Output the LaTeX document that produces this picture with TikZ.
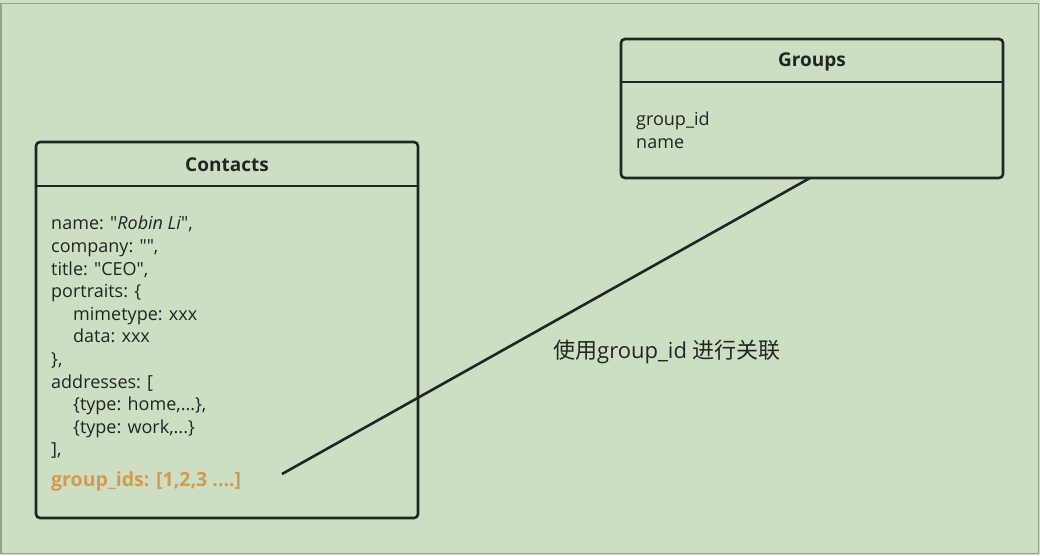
\documentclass[tikz,border=0pt]{standalone}
\usepackage{fontspec}
\setmainfont{Open Sans}
\newfontfamily\cjk{Noto Sans CJK SC}
\definecolor{bgc}{HTML}{CEDEC2}
\definecolor{framec}{HTML}{8EA48E}
\definecolor{inkc}{HTML}{1E2723}
\definecolor{orangec}{HTML}{D29A52}
\newcommand{\qq}{\textquotedbl}
\tikzset{
  entity/.style={draw=inkc, line width=2.6pt, rounded corners=4pt},
  sepline/.style={draw=inkc, line width=2.4pt},
  title/.style={font=\fontsize{19}{22}\selectfont\bfseries, text=inkc, inner sep=0pt},
  body/.style={font=\fontsize{18}{22.6}\selectfont, text=inkc, align=left, inner sep=0pt, anchor=north west},
  link/.style={draw=inkc, line width=2.6pt},
}
\begin{document}
\begin{tikzpicture}[x=1pt,y=-1pt]
\useasboundingbox (0,0) rectangle (1040,555);
\fill[bgc] (0,0) rectangle (1040,555);
\draw[framec, line width=1.5pt] (0.75,3.5) rectangle (1038.5,553.5);

% Contacts
\path[entity] (36,142) rectangle (418,518);
\draw[sepline] (37,186) -- (417,186);
\node[title] (ctitle) at (227,165) {Contacts};
\node[body] (cbody) at (51,216) {name: \qq\textit{Robin Li}\qq,\\
company: \qq\qq,\\
title: \qq CEO\qq,\\
portraits: \{\\
\hspace*{22pt}mimetype: xxx\\
\hspace*{22pt}data: xxx\\
\},\\
addresses: [\\
\hspace*{22pt}\{type: home,...\},\\
\hspace*{22pt}\{type: work,...\}\\
],};
\node[body, anchor=west, font=\fontsize{19.5}{22}\selectfont\bfseries, text=orangec] (gids) at (51,481) {group\_ids: [1,2,3 ....]};

% Groups
\path[entity] (621,39) rectangle (1003,178);
\draw[sepline] (622,82) -- (1002,82);
\node[title] (gtitle) at (812,62) {Groups};
\node[body] (gbody) at (636,112) {group\_id\\name};

% connector
\coordinate (gbot) at (810,178);
\coordinate (lend) at (282,474);
\draw[link] (lend) -- (gbot);
\node[anchor=west, inner sep=0pt, text=inkc, font=\fontsize{22}{24}\selectfont] (lbl) at (553,352) {{\cjk 使用}group\_id {\cjk 进行关联}};
\end{tikzpicture}
\end{document}
